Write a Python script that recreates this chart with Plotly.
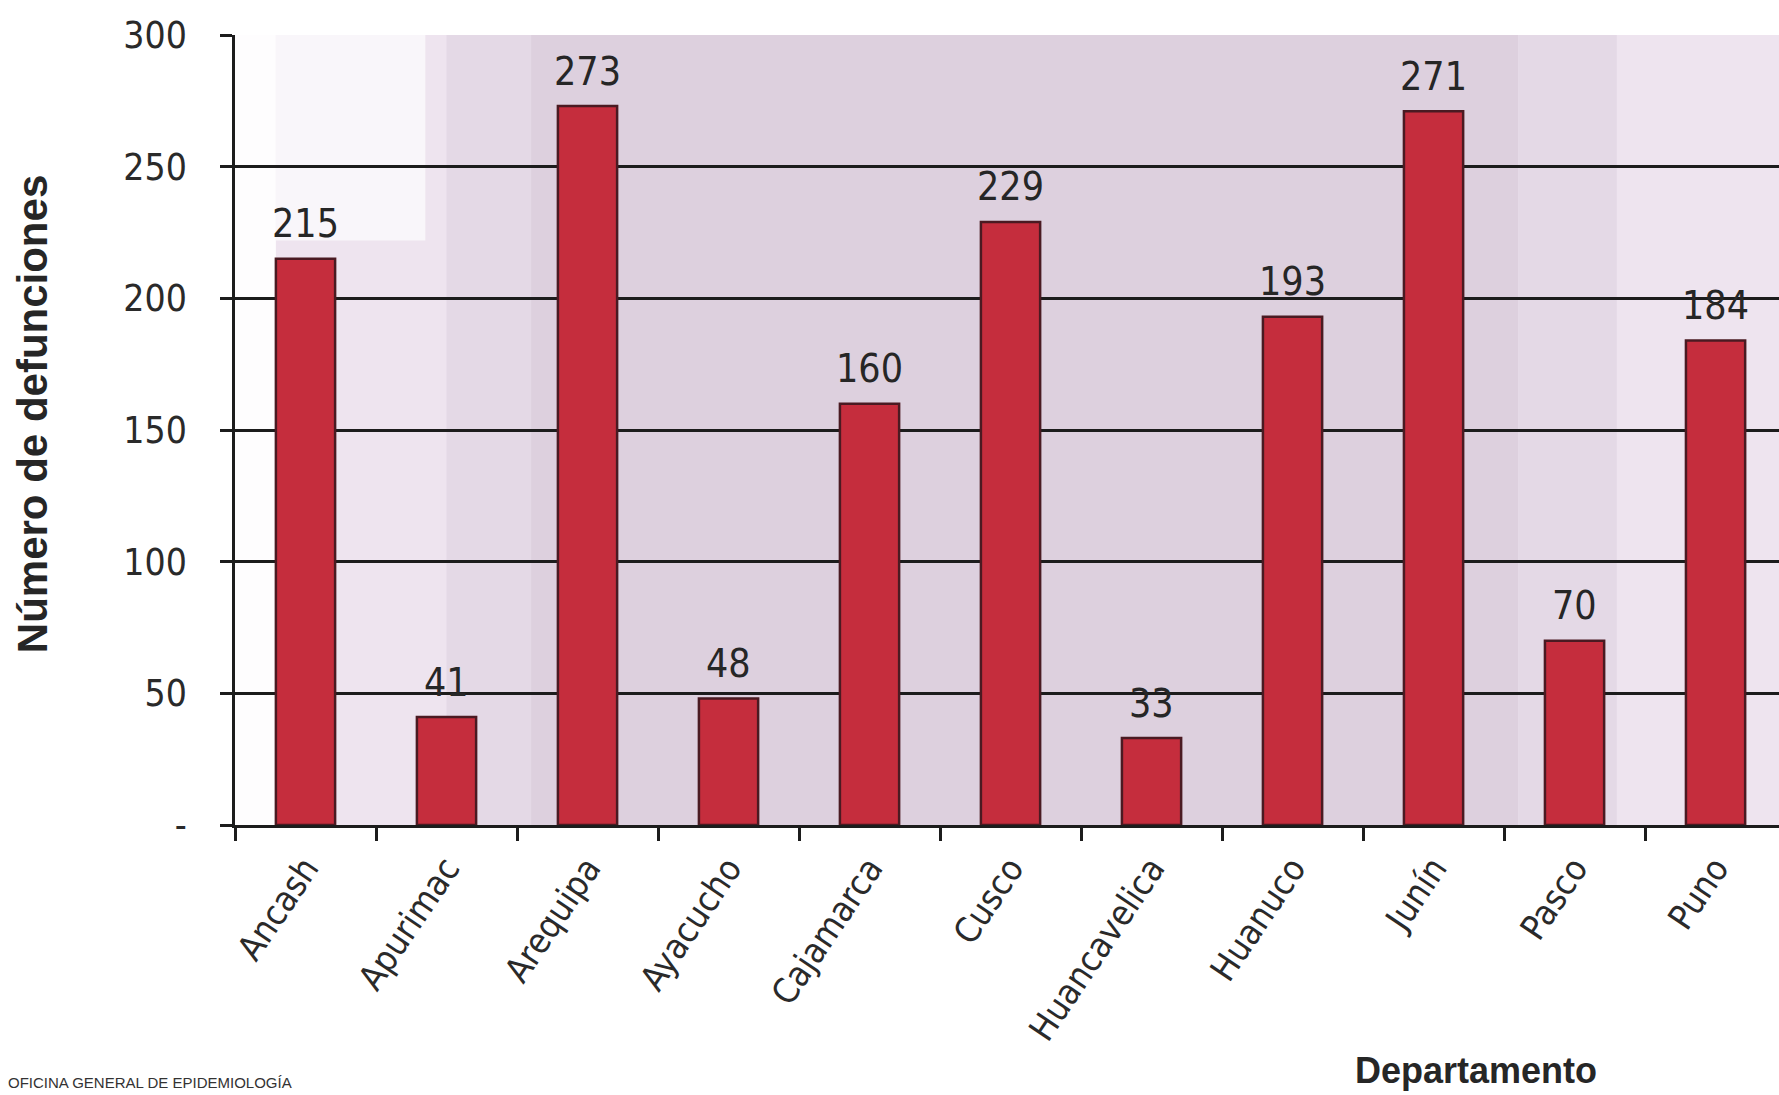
import plotly.graph_objects as go

# Defunciones por departamento
departamentos = ["Ancash", "Apurimac", "Arequipa", "Ayacucho", "Cajamarca", "Cusco",
                 "Huancavelica", "Huanuco", "Junín", "Pasco", "Puno"]
defunciones = [215, 41, 273, 48, 160, 229, 33, 193, 271, 70, 184]

y_tick_vals = [0, 50, 100, 150, 200, 250, 300]
y_tick_text = ["-", "50", "100", "150", "200", "250", "300"]

BAR_FILL = "#C52D3D"
BAR_EDGE = "#4A1A22"
INK = "#1C1C1C"
NARROW = "Liberation Sans Narrow, DejaVu Sans Condensed, Arial Narrow, sans-serif"
COND = "DejaVu Sans Condensed, Liberation Sans, sans-serif"
BOLD = "Liberation Sans, Arial, sans-serif"

fig = go.Figure()
fig.add_trace(go.Bar(
    x=departamentos,
    y=defunciones,
    width=0.42,
    marker=dict(color=BAR_FILL, line=dict(color=BAR_EDGE, width=2.5)),
    hoverinfo="x+y",
))

# value labels above each bar
for dep, val in zip(departamentos, defunciones):
    fig.add_annotation(
        x=dep, y=val, xref="x", yref="y",
        text=str(val), showarrow=False,
        yanchor="middle", yshift=35,
        font=dict(family=NARROW, size=39, color="#262626"),
    )

# axis titles
fig.add_annotation(
    text="<b>Número de defunciones</b>", xref="paper", yref="paper",
    x=-0.1315, y=0.52, textangle=-90, showarrow=False,
    xanchor="center", yanchor="middle",
    font=dict(family=BOLD, size=42, color="#262626"),
)
fig.add_annotation(
    text="<b>Departamento</b>", xref="paper", yref="paper",
    x=0.804, y=-0.311, showarrow=False,
    xanchor="center", yanchor="middle",
    font=dict(family=BOLD, size=36, color="#262626"),
)
# source line at the bottom edge
fig.add_annotation(
    text="OFICINA GENERAL DE EPIDEMIOLOGÍA", xref="paper", yref="paper",
    x=-0.148, y=-0.339, showarrow=False,
    xanchor="left", yanchor="bottom",
    font=dict(family=BOLD, size=15, color="#333333"),
)

# shaded bands of the plot background, light at the edges and darker in the centre
bands = [
    (-0.5, -0.21, 0, 300, "white", 0.9),
    (-0.21, 0.85, 222, 300, "white", 0.65),
    (1.0, 1.6, 0, 300, "#E4D9E6", 1.0),
    (1.6, 8.6, 0, 300, "#DDD0DE", 1.0),
    (8.6, 9.3, 0, 300, "#E4D9E6", 1.0),
]
for x0, x1, y0, y1, col, op in bands:
    fig.add_shape(type="rect", xref="x", yref="y", x0=x0, x1=x1, y0=y0, y1=y1,
                  fillcolor=col, line=dict(width=0), layer="below", opacity=op)

fig.update_layout(
    width=1779, height=1095,
    margin=dict(l=235, r=0, t=35, b=270),
    paper_bgcolor="white",
    plot_bgcolor="#EEE4EF",
    showlegend=False,
    bargap=0.58,
)
fig.update_xaxes(
    type="category",
    range=[-0.5, 10.45],
    showline=True, linecolor=INK, linewidth=2.5,
    ticks="outside", tickson="boundaries", ticklen=13, tickwidth=2.5, tickcolor=INK,
    tickangle=-56,
    tickfont=dict(family=COND, size=35, color="#2A2A2A"),
    ticklabelstandoff=6,
    showgrid=False,
)
fig.update_yaxes(
    range=[0, 300],
    tickvals=y_tick_vals, ticktext=y_tick_text,
    showline=True, linecolor=INK, linewidth=2.5,
    ticks="outside", ticklen=12, tickwidth=2.5, tickcolor=INK,
    tickfont=dict(family=NARROW, size=37, color="#2A2A2A"),
    ticklabelstandoff=26,
    showgrid=True, gridcolor=INK, gridwidth=2.5,
    zeroline=False,
)

fig.write_html("out.html")
